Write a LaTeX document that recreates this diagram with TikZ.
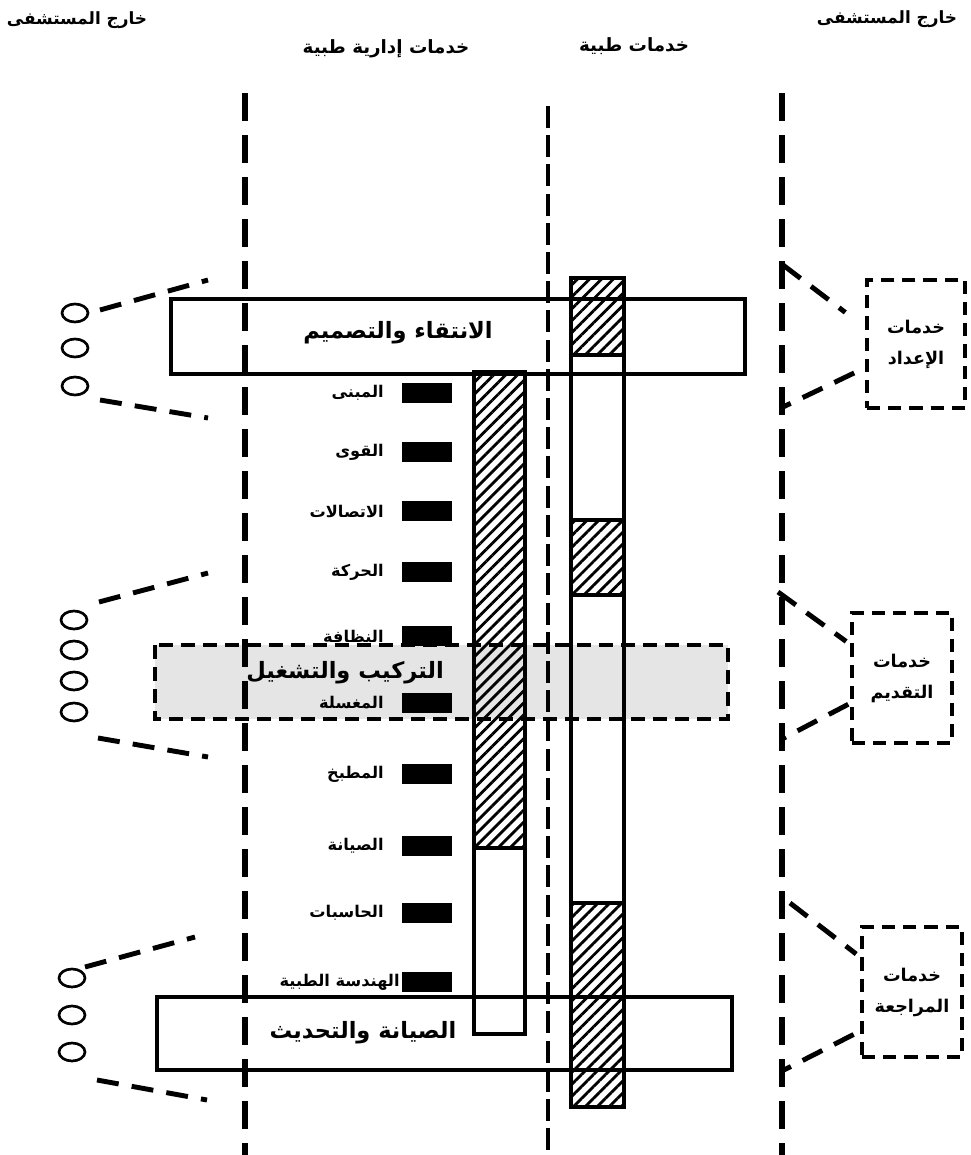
\documentclass[tikz,border=0pt]{standalone}
\usepackage{fontspec}
\newfontfamily\arabicfont[Script=Arabic]{DejaVu Sans}
\TeXXeTstate=1
\usetikzlibrary{positioning,shapes.geometric,patterns.meta}
\newcommand{\artext}[1]{{\arabicfont\bfseries\beginR #1\endR}}

\begin{document}
\begin{tikzpicture}[
    x=0.025cm, y=-0.025cm,
    axis/.style={line width=4.3pt, dash pattern=on 0.7cm off 0.35cm},
    midaxis/.style={line width=2.8pt, dash pattern=on 0.55cm off 0.18cm},
    fan/.style={line width=3.5pt, dash pattern=on 0.55cm off 0.33cm},
    stage/.style={line width=2.8pt},
    col/.style={line width=3.5pt},
    hatch/.style={pattern={Lines[angle=45,distance=6pt,line width=2pt]}},
    frame/.style={line width=2.8pt, dash pattern=on 0.35cm off 0.2cm},
    dot/.style={ellipse, draw, line width=1.9pt, minimum width=0.65cm, minimum height=0.45cm, inner sep=0pt},
    svc/.style={draw, line width=2.8pt, dash pattern=on 0.33cm off 0.2cm, minimum width=2.45cm, minimum height=3.2cm, align=center, font=\fontsize{12.5}{22}\selectfont},
    unit/.style={fill=black, minimum width=1.27cm, minimum height=0.52cm, inner sep=0pt},
    tag/.style={font=\fontsize{11.5}{13}\selectfont, inner sep=1pt},
    head/.style={font=\fontsize{13}{16}\selectfont},
    title/.style={font=\fontsize{16}{20}\selectfont}
]
    \useasboundingbox (0,0) rectangle (971,1155);

    % headers
    \node[head, font=\fontsize{12}{14}\selectfont] (outL) at (77,20) {\artext{خارج المستشفى}};
    \node[head] (adm) at (386,49) {\artext{خدمات إدارية طبية}};
    \node[head] (med) at (634,46) {\artext{خدمات طبية}};
    \node[head, font=\fontsize{12}{14}\selectfont] (outR) at (887,19) {\artext{خارج المستشفى}};

    % stippled band
    \fill[black!10] (155,645) rectangle (728,719);

    % vertical axes
    \draw[axis] (245,93) -- (245,1155);
    \draw[midaxis] (548,106) -- (548,1155);
    \draw[axis] (782,93) -- (782,1155);

    % columns
    \fill[hatch] (474,372) rectangle (525,848);
    \draw[col] (474,372) rectangle (525,1034);
    \draw[stage] (474,848) -- (525,848);
    \fill[hatch] (571,278) rectangle (624,355);
    \fill[hatch] (571,520) rectangle (624,595);
    \fill[hatch] (571,903) rectangle (624,1107);
    \draw[col] (571,278) rectangle (624,1107);
    \foreach \y in {355,520,595,903}
        \draw[stage] (571,\y) -- (624,\y);

    % stage boxes
    \draw[stage] (171,299) rectangle (745,374);
    \draw[stage] (157,997) rectangle (732,1070);
    \draw[frame] (155,645) rectangle (728,719);

    % units
    \foreach \y/\t in {393/المبنى, 452/القوى, 511/الاتصالات, 572/الحركة, 636/النظافة, 703/المغسلة, 774/المطبخ, 846/الصيانة, 913/الحاسبات} {
        \node[unit] (u\y) at (427,\y) {};
        \node[tag, left=0.4cm of u\y] (t\y) {\artext{\t}};
    }
    \node[unit] (u982) at (427,982) {};
    \node[tag, left=0cm of u982] (t982) {\artext{الهندسة الطبية}};

    % stage titles
    \node[title] (sel) at (398,333) {\artext{الانتقاء والتصميم}};
    \node[title] (ins) at (345,673) {\artext{التركيب والتشغيل}};
    \node[title] (mnt) at (363,1033) {\artext{الصيانة والتحديث}};

    % circles
    \node[dot] (c11) at (75,313) {};
    \node[dot] (c12) at (75,348) {};
    \node[dot] (c13) at (75,386) {};
    \node[dot] (c21) at (74,620) {};
    \node[dot] (c22) at (74,650) {};
    \node[dot] (c23) at (74,681) {};
    \node[dot] (c24) at (74,712) {};
    \node[dot] (c31) at (72,978) {};
    \node[dot] (c32) at (72,1015) {};
    \node[dot] (c33) at (72,1052) {};

    \coordinate (f1a) at (208,280);
    \coordinate (f1b) at (208,418);
    \coordinate (f2a) at (208,573);
    \coordinate (f2b) at (208,757);
    \coordinate (f3a) at (195,937);
    \coordinate (f3b) at (207,1100);
    \draw[fan] ([shift={(25,-3)}]c11.center) -- (f1a);
    \draw[fan] ([shift={(25,14)}]c13.center) -- (f1b);
    \draw[fan] ([shift={(25,-18)}]c21.center) -- (f2a);
    \draw[fan] ([shift={(24,26)}]c24.center) -- (f2b);
    \draw[fan] ([shift={(13,-11)}]c31.center) -- (f3a);
    \draw[fan] ([shift={(25,28)}]c33.center) -- (f3b);

    % service boxes
    \node[svc] (prep) at (916,344) {\artext{خدمات}\\\artext{الإعداد}};
    \node[svc, minimum width=2.5cm, minimum height=3.25cm] (dlv) at (902,678) {\artext{خدمات}\\\artext{التقديم}};
    \node[svc, minimum width=2.5cm, minimum height=3.25cm] (rev) at (912,992) {\artext{خدمات}\\\artext{المراجعة}};

    \coordinate (r1a) at (783,265);
    \coordinate (r1b) at (783,407);
    \coordinate (r2a) at (778,592);
    \coordinate (r2b) at (780,740);
    \coordinate (r3a) at (790,903);
    \coordinate (r3b) at (780,1072);
    \draw[fan, shorten >=0.62cm] (r1a) -- (prep.162);
    \draw[fan, shorten <=0.3cm] (prep.205) -- (r1b);
    \draw[fan, shorten >=0.12cm] (r2a) -- (dlv.147);
    \draw[fan, shorten <=0.05cm] (dlv.206) -- (r2b);
    \draw[fan, shorten >=0.12cm] (r3a) -- (rev.146);
    \draw[fan, shorten <=0.18cm] (rev.217) -- (r3b);
\end{tikzpicture}
\end{document}
